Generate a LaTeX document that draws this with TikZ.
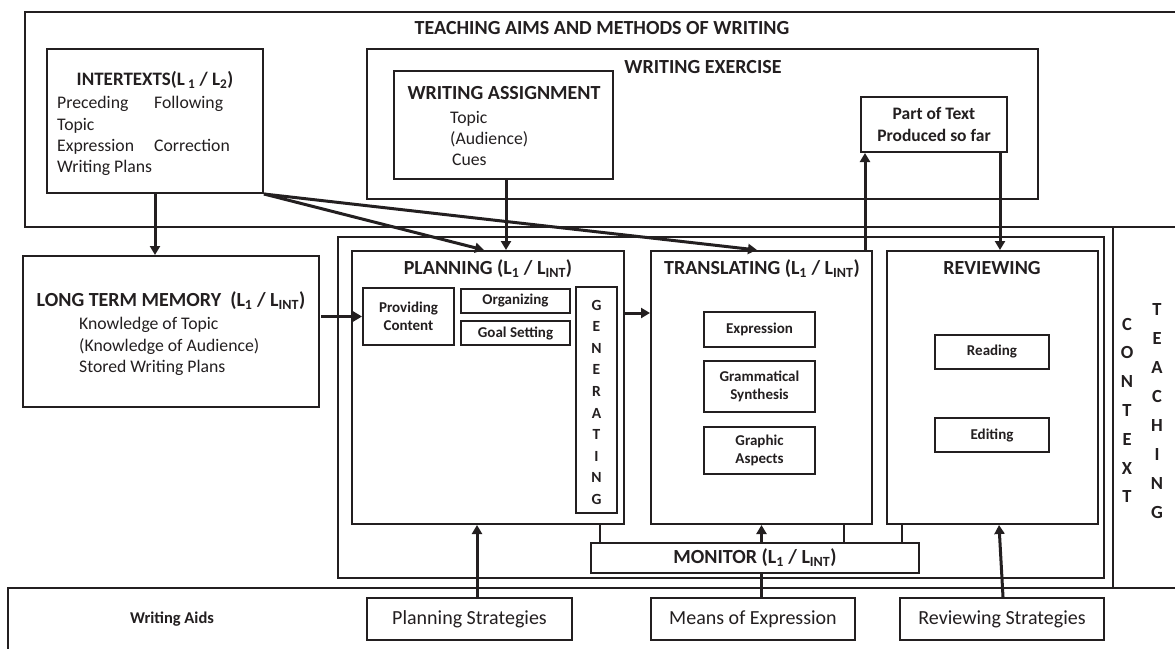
\documentclass[tikz,border=0pt]{standalone}
\usepackage{fontspec}
\setmainfont{Carlito}
\usetikzlibrary{arrows.meta}
\definecolor{ink}{HTML}{231F20}
\newcommand{\sub}[1]{\textsubscript{#1}}
\begin{document}
\begin{tikzpicture}[x=1pt,y=-1pt,
  box/.style={draw=ink,line width=2pt,rectangle,inner sep=0pt,text=ink,align=center},
  frame/.style={draw=ink,line width=2pt},
  conn/.style={draw=ink,line width=3pt},
  arr/.style={draw=ink,line width=3pt,-{Triangle[length=9pt,width=10pt]}},
  ttl/.style={font=\fontsize{20}{23}\selectfont\bfseries,text=ink,inner sep=0pt},
  txt/.style={font=\fontsize{17.7}{21}\selectfont,text=ink,inner sep=0pt,anchor=base west},
  sm/.style={font=\fontsize{15}{18}\selectfont\bfseries},
  big/.style={font=\fontsize{20}{23}\selectfont},
  letter/.style={font=\fontsize{15.5}{17}\selectfont\bfseries,text=ink,inner sep=0pt},
  vlet/.style={font=\fontsize{18.5}{20}\selectfont\bfseries,text=ink,inner sep=0pt}]
\useasboundingbox (0,0) rectangle (1175,648);
\fill[white] (0,0) rectangle (1175,648);
% outer frames
\draw[frame] (1176,12) -- (25,12) -- (25,227) -- (1176,227);
\draw[frame] (8,650) -- (8,588) -- (1176,588);
\draw[frame] (1113,227) -- (1113,588);
\node[ttl] (aims) at (602,28) {TEACHING AIMS AND METHODS OF WRITING};
% boxes
\node[box,minimum width=216pt,minimum height=144pt] (inter) at (155,121) {};
\node[box,minimum width=671pt,minimum height=150pt] (exer) at (702.5,124) {};
\node[box,minimum width=219pt,minimum height=108pt] (assign) at (503.5,125) {};
\node[box,minimum width=146pt,minimum height=55pt,font=\fontsize{17.5}{22}\selectfont\bfseries] (part) at (934,124.5) {Part of Text\\Produced so far};
\node[box,minimum width=296pt,minimum height=151pt] (ltm) at (171,331.5) {};
\node[box,minimum width=766pt,minimum height=341pt] (proc) at (721,407.5) {};
\node[box,minimum width=272pt,minimum height=273pt] (plan) at (488,387.5) {};
\node[box,sm,minimum width=91pt,minimum height=57pt] (prov) at (408.5,316.5) {Providing\\Content};
\node[box,sm,minimum width=109pt,minimum height=24pt] (org) at (515.5,301) {Organizing};
\node[box,sm,minimum width=109pt,minimum height=24pt] (goal) at (515.5,333) {Goal Setting};
\node[box,minimum width=41pt,minimum height=226pt] (gen) at (596.5,400) {};
\node[box,minimum width=221pt,minimum height=273pt] (trans) at (761.5,387.5) {};
\node[box,sm,minimum width=111pt,minimum height=35pt] (expr) at (759.5,329.5) {Expression};
\node[box,sm,minimum width=111pt,minimum height=51pt] (gram) at (759.5,386.5) {Grammatical\\Synthesis};
\node[box,sm,minimum width=111pt,minimum height=47pt] (graph) at (759.5,450.5) {Graphic\\Aspects};
\node[box,minimum width=211pt,minimum height=273pt] (rev) at (992.5,387.5) {};
\node[box,sm,minimum width=114pt,minimum height=34pt] (read) at (992,352) {Reading};
\node[box,sm,minimum width=114pt,minimum height=34pt] (edit) at (992,435) {Editing};
\node[box,minimum width=328pt,minimum height=30pt,font=\fontsize{20}{23}\selectfont\bfseries] (mon) at (755,558) {MONITOR (L\sub{1} / L\sub{INT})};
\node[box,big,minimum width=205pt,minimum height=42pt] (pstrat) at (469.5,619) {Planning Strategies};
\node[box,big,minimum width=204pt,minimum height=42pt] (means) at (753,619) {Means of Expression};
\node[box,big,minimum width=204pt,minimum height=42pt] (rstrat) at (1002,619) {Reviewing Strategies};
% texts
\node[ttl,font=\fontsize{19}{23}\selectfont\bfseries] (intert) at (155,80) {INTERTEXTS(L\,\sub{1} / L\sub{2})};
\node[txt] (t1) at (57,108) {Preceding};
\node[txt] (t2) at (154,108) {Following};
\node[txt] (t3) at (57,130) {Topic};
\node[txt] (t4) at (57,151) {Expression};
\node[txt] (t5) at (154,151) {Correction};
\node[txt] (t6) at (57,172) {Writing Plans};
\node[ttl] (exert) at (703,67) {WRITING EXERCISE};
\node[ttl] (assignt) at (504,93) {WRITING ASSIGNMENT};
\node[txt] (a1) at (450,123) {Topic};
\node[txt] (a2) at (450,144) {(Audience)};
\node[txt] (a3) at (452,165) {Cues};
\node[ttl] (ltmt) at (171,301) {LONG TERM MEMORY\ \ (L\sub{1} / L\sub{INT})};
\node[txt] (l1) at (79,329) {Knowledge of Topic};
\node[txt] (l2) at (79,351) {(Knowledge of Audience)};
\node[txt] (l3) at (79,372) {Stored Writing Plans};
\node[ttl] (plant) at (488,269) {PLANNING (L\sub{1} / L\sub{INT})};
\node[ttl] (transt) at (762,269) {TRANSLATING (L\sub{1} / L\sub{INT})};
\node[ttl] (revt) at (992,268) {REVIEWING};
\node[ttl,font=\fontsize{16.5}{20}\selectfont\bfseries] (aids) at (172,619) {Writing Aids};
\foreach \l [count=\i from 0] in {G,E,N,E,R,A,T,I,N,G}
  \node[letter] (g\i) at (596.5,305+21.6*\i) {\l};
\foreach \l [count=\i from 0] in {C,O,N,T,E,X,T}
  \node[vlet] (c\i) at (1127,324+28.8*\i) {\l};
\foreach \l [count=\i from 0] in {T,E,A,C,H,I,N,G}
  \node[vlet] (h\i) at (1157,309+29*\i) {\l};
% connectors
\draw[arr] (inter.south) -- (inter.south |- ltm.north);
\draw[arr] (inter.south east) -- ([xshift=133pt]plan.north west);
\draw[arr] (inter.south east) -- ([xshift=107pt]trans.north west);
\draw[arr] ([xshift=2.5pt]assign.south) -- ([xshift=2.5pt]assign.south |- plan.north);
\draw[arr] ([xshift=-8pt]trans.north east) -- ([xshift=-8pt]trans.north east |- part.south);
\draw[arr] ([xshift=-8pt]part.south east) -- ([xshift=-8pt]part.south east |- rev.north);
\draw[arr] ([xshift=1pt]ltm.east |- prov.west) -- (prov.west);
\draw[arr] ([yshift=74.5pt]plan.east) -- ([yshift=74.5pt]plan.east -| trans.west);
\draw[frame] ([xshift=10pt]mon.north west) -- ([xshift=10pt]mon.north west |- plan.south);
\draw[frame] ([xshift=-29pt]trans.south east) -- ([xshift=-29pt]trans.south east |- mon.north);
\draw[frame] ([xshift=16pt]rev.south west) -- ([xshift=16pt]rev.south west |- mon.north);
\draw[conn] (means.north -| trans.south) -- (mon.south -| trans.south);
\draw[arr] (mon.north -| trans.south) -- (trans.south);
\draw[arr] ([xshift=7.5pt]pstrat.north) -- ([xshift=7.5pt]pstrat.north |- plan.south);
\draw[arr] ([xshift=1pt]rstrat.north) -- ([xshift=6.5pt]rev.south);
\end{tikzpicture}
\end{document}
